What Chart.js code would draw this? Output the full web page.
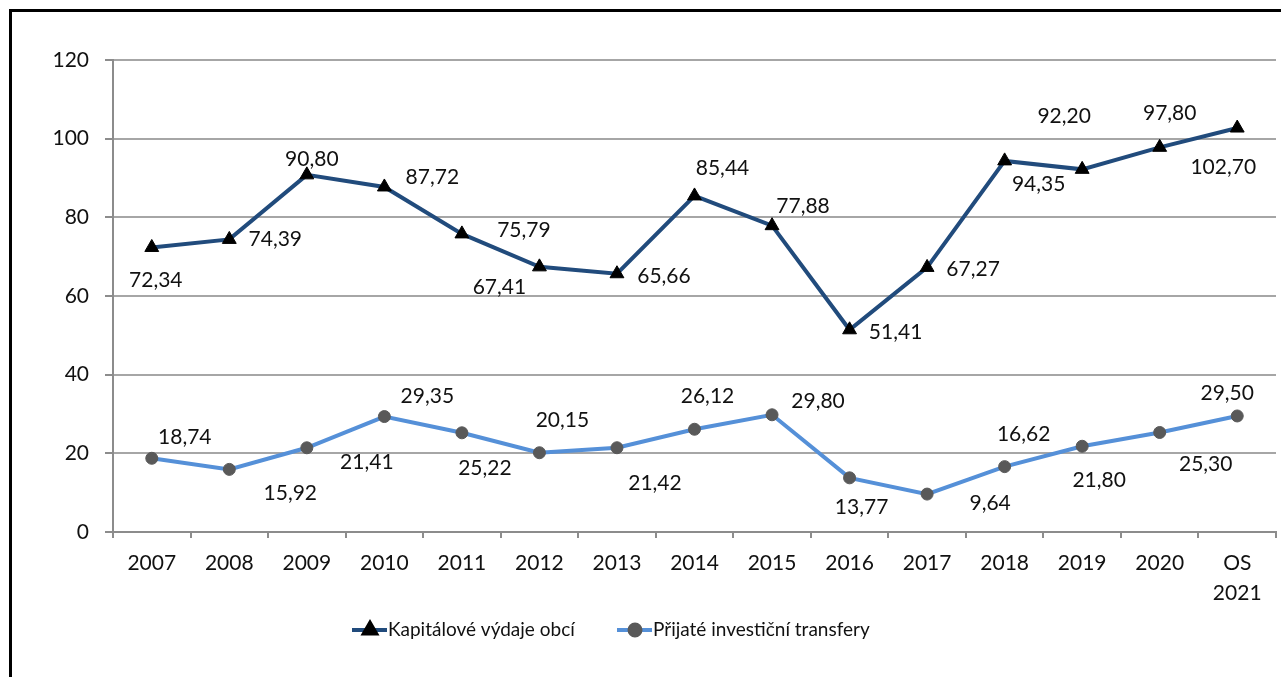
<!DOCTYPE html>
<html lang="cs">
<head>
<meta charset="utf-8">
<title>Kapitálové výdaje obcí</title>
<script src="https://cdn.jsdelivr.net/npm/chart.js@4.4.1/dist/chart.umd.min.js"></script>
<style>
    html, body { margin: 0; padding: 0; background: #fff; overflow: hidden; }
    #wrap { position: relative; width: 1281px; height: 677px; overflow: hidden; }
    #frame {
        position: absolute; left: 9px; top: 9px;
        width: 1400px; height: 800px;
        border: 3px solid #000; box-sizing: border-box;
        pointer-events: none;
    }
    canvas { position: absolute; left: 0; top: 0; }
</style>
</head>
<body>
<div id="wrap">
    <canvas id="chart" width="1285" height="677"></canvas>
    <div id="frame"></div>
</div>
<script>
// Years on the x axis (last one is the budget outlook)
const years = ["2007", "2008", "2009", "2010", "2011", "2012", "2013", "2014",
    "2015", "2016", "2017", "2018", "2019", "2020", ["OS", "2021"]];

// Values in bn CZK
const capitalSpending = [72.34, 74.39, 90.80, 87.72, 75.79, 67.41, 65.66, 85.44,
    77.88, 51.41, 67.27, 94.35, 92.20, 97.80, 102.70];
const investmentTransfers = [18.74, 15.92, 21.41, 29.35, 25.22, 20.15, 21.42, 26.12,
    29.80, 13.77, 9.64, 16.62, 21.80, 25.30, 29.50];

const yTicks = [0, 20, 40, 60, 80, 100, 120];

// Label placement relative to each point (px)
const capitalLabelShift = [[4, 33], [46, 0], [5, -16], [48, -10], [62, -4], [-40, 20],
    [47, 2], [28, -28], [31, -19], [46, 2], [46, 2], [34, 23], [-18, -53], [10, -34], [-14, 39]];
const transferLabelShift = [[33, -21], [61, 24], [60, 14], [43, -20], [23, 35], [23, -33],
    [38, 35], [13, -33], [46, -14], [12, 29], [63, 9], [19, -32], [17, 34], [46, 32], [-10, -23]];

// Legend item starts (px from the left edge)
const legendX = [352, 617];

const FONT = "Lato, 'Open Sans', sans-serif";
const TEXT = "#111";
const AXIS = "#8c8c8c";

const fmt = (v) => v.toFixed(2).replace(".", ",");

const pointLabels = {
    id: "pointLabels",
    afterDatasetsDraw(chart) {
        const ctx = chart.ctx;
        ctx.save();
        ctx.font = `21px ${FONT}`;
        ctx.fillStyle = TEXT;
        ctx.textAlign = "center";
        ctx.textBaseline = "middle";
        chart.data.datasets.forEach((ds, i) => {
            const meta = chart.getDatasetMeta(i);
            meta.data.forEach((pt, j) => {
                const [dx, dy] = ds.labelShift[j];
                ctx.fillText(fmt(ds.data[j]), pt.x + dx, pt.y + dy);
            });
        });
        ctx.restore();
    },
};

// Line + marker legend under the axis
const lineLegend = {
    id: "lineLegend",
    afterDraw(chart) {
        const ctx = chart.ctx;
        const y = 630;
        ctx.save();
        ctx.font = `19px ${FONT}`;
        ctx.textBaseline = "middle";
        ctx.textAlign = "left";
        chart.data.datasets.forEach((ds, i) => {
            const x = legendX[i];
            ctx.strokeStyle = ds.borderColor;
            ctx.lineWidth = 4;
            ctx.beginPath();
            ctx.moveTo(x, y);
            ctx.lineTo(x + 35, y);
            ctx.stroke();
            ctx.fillStyle = ds.pointBackgroundColor;
            ctx.strokeStyle = ds.pointBorderColor;
            Chart.helpers.drawPoint(ctx, {
                pointStyle: ds.pointStyle,
                radius: ds.pointStyle === "triangle" ? 7 : 5.5,
                borderWidth: 1,
                rotation: 0,
            }, x + 18, y);
            ctx.fillStyle = TEXT;
            ctx.fillText(ds.label, x + 36, y);
        });
        ctx.restore();
    },
};

new Chart(document.getElementById("chart").getContext("2d"), {
    type: "line",
    data: {
        labels: years,
        datasets: [
            {
                label: "Kapitálové výdaje obcí",
                data: capitalSpending,
                labelShift: capitalLabelShift,
                borderColor: "#214b7c",
                borderWidth: 4,
                pointStyle: "triangle",
                pointRadius: 8,
                pointBackgroundColor: "#000",
                pointBorderColor: "#000",
                pointBorderWidth: 1,
                tension: 0,
            },
            {
                label: "Přijaté investiční transfery",
                data: investmentTransfers,
                labelShift: transferLabelShift,
                borderColor: "#5590d8",
                borderWidth: 4,
                pointStyle: "circle",
                pointRadius: 6,
                pointBackgroundColor: "#595959",
                pointBorderColor: "#595959",
                pointBorderWidth: 1,
                tension: 0,
            },
        ],
    },
    options: {
        responsive: false,
        animation: false,
        layout: { padding: { top: 60, left: 0, right: 2, bottom: 45 } },
        plugins: {
            legend: { display: false },
            tooltip: { enabled: false },
        },
        scales: {
            x: {
                offset: true,
                grid: {
                    offset: true,
                    drawOnChartArea: false,
                    tickLength: 6,
                    color: AXIS,
                    lineWidth: 2,
                },
                border: { color: AXIS, width: 2, dash: [6, 4] },
                ticks: {
                    color: TEXT,
                    font: { family: FONT, size: 21, lineHeight: 1.4 },
                    padding: 11,
                    maxRotation: 0,
                    autoSkip: false,
                },
                afterFit(scale) { scale.height = 100; },
            },
            y: {
                min: 0,
                max: 120,
                afterBuildTicks(scale) {
                    scale.ticks = yTicks.map((v) => ({ value: v }));
                },
                grid: {
                    color: (c) => (c.tick && c.tick.value === 0 ? "rgba(0,0,0,0)" : "#a6a6a6"),
                    tickColor: AXIS,
                    lineWidth: 2,
                    tickLength: 8,
                },
                border: { color: AXIS, width: 2 },
                ticks: {
                    color: TEXT,
                    font: { family: FONT, size: 21 },
                    padding: 16,
                },
                afterFit(scale) { scale.width = 113; },
            },
        },
    },
    plugins: [pointLabels, lineLegend],
});
</script>
</body>
</html>
